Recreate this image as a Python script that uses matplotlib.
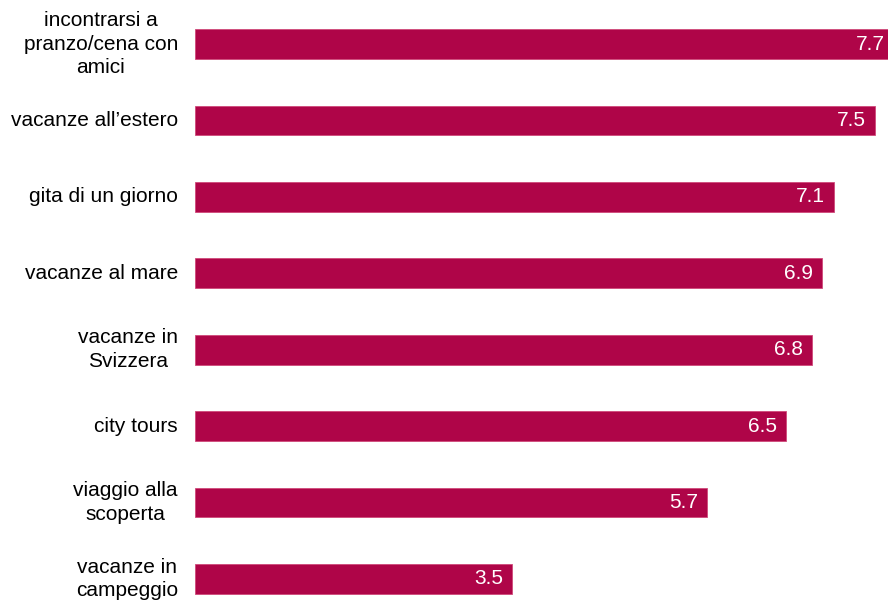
import matplotlib
matplotlib.use("Agg")
import matplotlib.pyplot as plt

categories = [
    "incontrarsi a\npranzo/cena con\namici",
    "vacanze all\u2019estero",
    "gita di un giorno",
    "vacanze al mare",
    "vacanze in\nSvizzera",
    "city tours",
    "viaggio alla\nscoperta",
    "vacanze in\ncampeggio",
]
# bar lengths as measured; the printed labels are rounded to one decimal
values = [7.7, 7.5, 7.04, 6.91, 6.80, 6.52, 5.65, 3.5]
value_labels = ["7.7", "7.5", "7.1", "6.9", "6.8", "6.5", "5.7", "3.5"]

BAR_COLOR = "#AF0548"

plt.rcParams["font.family"] = ["Liberation Sans", "DejaVu Sans"]

fig = plt.figure(figsize=(8.88, 6.02), dpi=100)
# axes from x=195px to 888px, y from 6px to 617px (bottom is cut by the figure edge)
ax = fig.add_axes([195 / 888, -15 / 602, 693 / 888, 611 / 602])

y = list(range(len(values)))
ax.barh(y, values, height=0.39, color=BAR_COLOR, edgecolor="#D04A7A",
        linewidth=0.6)
ax.set_ylim(len(values) - 0.5, -0.5)
ax.set_xlim(0, 7.64)

for yi, v, lab in zip(y, values, value_labels):
    ax.annotate(lab, xy=(v, yi), xytext=(-6.5, 0), textcoords="offset points",
                ha="right", va="center", color="white", fontsize=15,
                annotation_clip=False, clip_on=False)

for yi, lab in zip(y, categories):
    ax.text(-17 / 90.7, yi, lab, ha="right", va="center", multialignment="center",
            fontsize=15, color="#000000", linespacing=1.3)

ax.set_xticks([])
ax.set_yticks([])
for s in ax.spines.values():
    s.set_visible(False)

fig.savefig("out.png", dpi=100)
